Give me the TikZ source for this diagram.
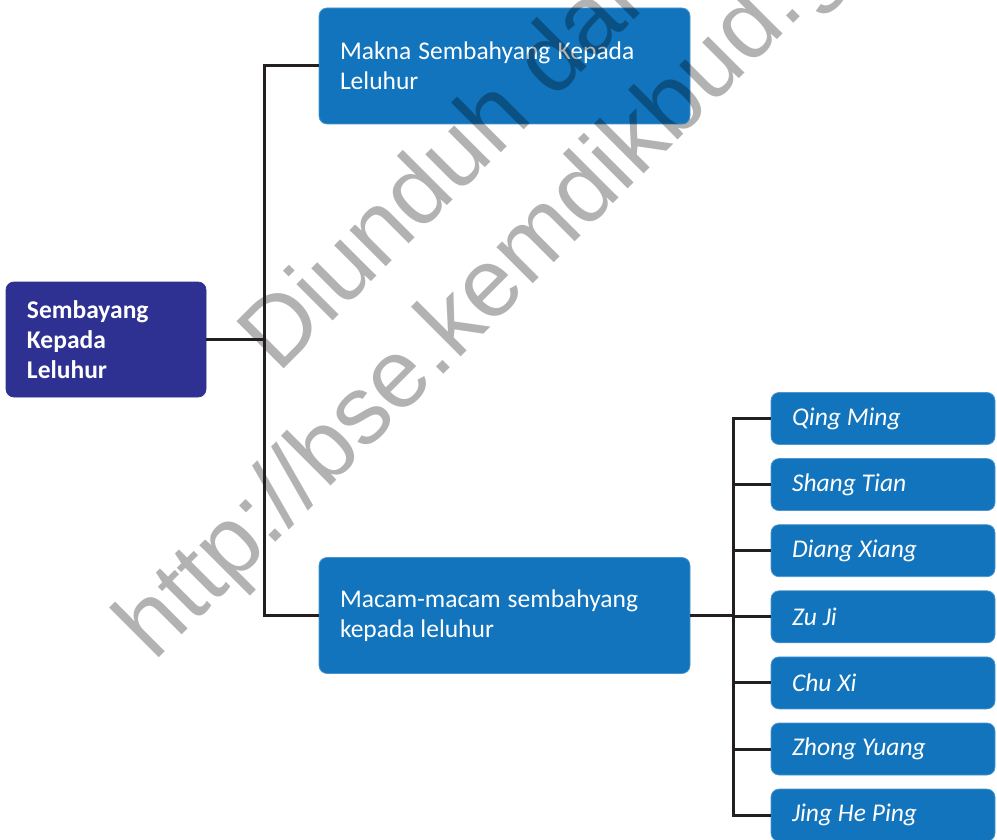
\documentclass[tikz,border=0pt]{standalone}
\usepackage{fontspec}
\setmainfont{Carlito}
\newfontfamily\wmfont{Liberation Sans}
\definecolor{rootblue}{RGB}{46,49,146}
\definecolor{boxblue}{RGB}{17,116,188}
\definecolor{linkgray}{RGB}{35,31,32}
\tikzset{
  box/.style={rectangle, rounded corners=8pt, fill=boxblue, draw=boxblue!75!white, line width=0.75pt,
    text=white, align=left, inner xsep=21pt, inner ysep=0pt, font=\fontsize{25.5pt}{30pt}\selectfont,
    execute at begin node={\spaceskip=5.8pt plus 2pt minus 1pt\relax}},
  topbox/.style={box, text width=329pt, minimum height=116pt},
  leafbox/.style={box, text width=182pt, minimum height=52pt, font=\fontsize{25.5pt}{30pt}\selectfont\itshape},
  link/.style={draw=linkgray, line width=3pt}
}
\begin{document}
\begin{tikzpicture}[x=1pt,y=-1pt]
\useasboundingbox (0,0) rectangle (997,840);
% boxes
\node[box, fill=rootblue, draw=rootblue, text width=158pt, minimum height=115pt,
  font=\fontsize{25.5pt}{30pt}\selectfont\bfseries] (root) at (106,339.5) {Sembayang\\Kepada\\Leluhur};
\node[topbox] (makna) at (504.5,66) {Makna Sembahyang Kepada Leluhur};
\node[topbox] (macam) at (504.5,615.5) {Macam-macam sembahyang kepada leluhur};
\foreach \name [count=\i from 0] in {Qing Ming,Shang Tian,Diang Xiang,Zu Ji,Chu Xi,Zhong Yuang,Jing He Ping}
  \node[leafbox] (leaf\i) at (883,418.5+66.1*\i) {\name};
% watermark
\begin{scope}[transparency group, opacity=0.3]
\node[rotate=45, align=center, text=black,
  font=\wmfont\fontsize{97pt}{116pt}\selectfont] (mark) at (496.5,203.5)
  {Diunduh dari\\http://bse.kemdikbud.go.id};
\end{scope}
% connectors
\coordinate (j1) at (264,339.5);
\coordinate (j2) at (733,615.5);
\draw[link] (makna.west) -| (j1) |- (macam.west);
\draw[link] (root.east) -- (j1);
\draw[link] (leaf0.west) -| (j2) |- (leaf6.west);
\draw[link] (macam.east) -- (j2);
\foreach \i in {1,...,5}
  \draw[link] (leaf\i.west) -- (leaf\i.west -| j2);
\end{tikzpicture}
\end{document}
